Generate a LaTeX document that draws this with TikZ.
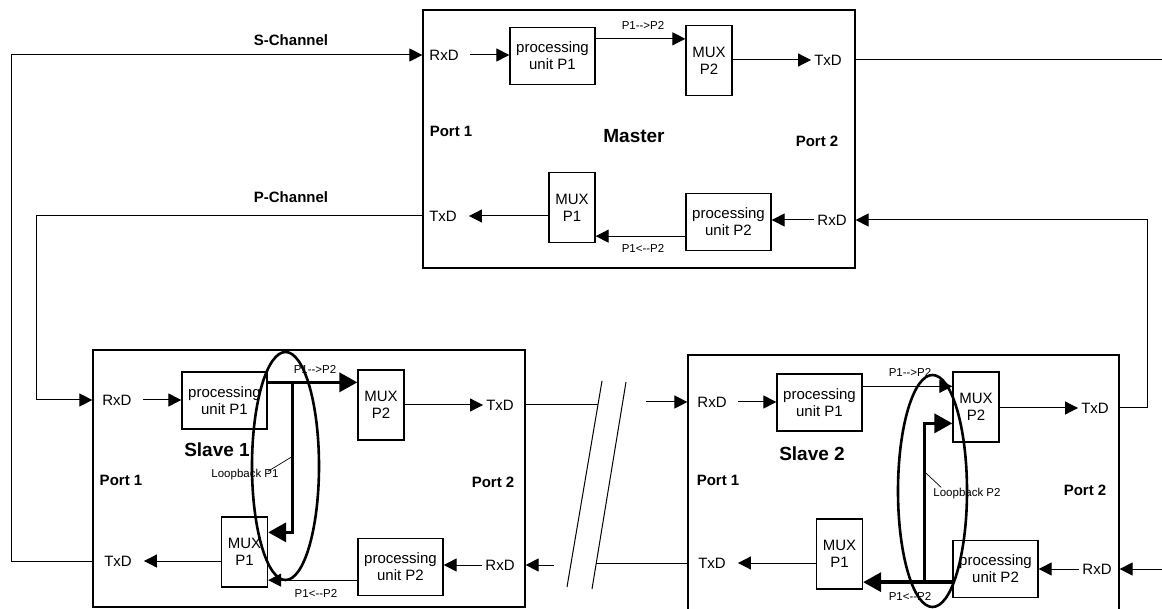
\documentclass[tikz,border=0pt]{standalone}
\usepackage{fontspec}
\setmainfont{Liberation Sans}
\usetikzlibrary{arrows.meta, positioning, calc}

\newcommand{\boxfont}{\fontsize{15}{17}\selectfont}
\newcommand{\tagfont}{\fontsize{11.5}{13}\selectfont}

\tikzset{
  blockframe/.style={draw, line width=1.2pt, inner sep=0pt},
  unit/.style={draw, line width=1.3pt, align=center, inner sep=0pt,
    minimum width=85pt, minimum height=57pt, font=\boxfont},
  mux/.style={unit, minimum width=46pt, minimum height=70pt},
  io/.style={inner sep=3pt, font=\boxfont},
  port/.style={inner sep=1pt, font=\bfseries\boxfont},
  heading/.style={inner sep=1pt, font=\bfseries\fontsize{19}{22}\selectfont},
  tag/.style={inner sep=1pt, font=\tagfont},
  sig/.style={line width=1pt, -{Triangle[length=13pt,width=13pt]}},
  lb/.style={line width=3.5pt, -{Triangle[length=18pt,width=19pt]}},
  ring/.style={line width=2.6pt},
  lead/.style={line width=0.7pt}
}

\begin{document}
\begin{tikzpicture}[x=1pt, y=-1pt]
  \useasboundingbox (0,0) rectangle (1162,609);
  \clip (0,0) rectangle (1162,609);

  % frames
  \node[blockframe, minimum width=432pt, minimum height=258pt] (mst) at (639,139) {};
  \node[blockframe, minimum width=432pt, minimum height=257pt] (s1) at (309,478.5) {};
  \node[blockframe, minimum width=431pt, minimum height=266pt] (s2) at (903.5,488) {};

  % Master
  \node[io] (mrx1) at (444,55) {RxD};
  \node[unit] (mpu1) at (552.5,56) {processing\\unit P1};
  \node[mux] (mmx2) at (709,60.5) {MUX\\P2};
  \node[io] (mtx2) at (828,60) {TxD};
  \node[port] (mpt1) at (451,131) {Port 1};
  \node[heading] (mname) at (634,136) {Master};
  \node[port] (mpt2) at (817,141) {Port 2};
  \node[mux] (mmx1) at (572,207.5) {MUX\\P1};
  \node[unit] (mpu2) at (728.5,222) {processing\\unit P2};
  \node[io] (mtx1) at (443,216) {TxD};
  \node[io] (mrx2) at (832,220) {RxD};
  \node[tag] (mfw) at (643,25) {P1-{}->P2};
  \node[tag] (mbw) at (643,248) {P1<-{}-P2};

  \draw[sig, shorten <=8pt] (mrx1.east) -- (mrx1 -| mpu1.west);
  \draw[sig] ($(mpu1.north east)+(0,12)$) coordinate (mf) -- (mf -| mmx2.west);
  \draw[sig] (mmx2.east |- mtx2) -- (mtx2.west);
  \draw[sig] (mrx2.west) -- (mrx2 -| mpu2.east);
  \draw[sig] ($(mpu2.south west)+(0,-15)$) coordinate (mb) -- (mb -| mmx1.east);
  \draw[sig, shorten >=9pt] (mmx1.west |- mtx1) -- (mtx1.east);

  % Slave 1
  \node[io] (s1rx1) at (117,400) {RxD};
  \node[unit] (s1pu1) at (224.5,400.5) {processing\\unit P1};
  \node[mux] (s1mx2) at (381,405) {MUX\\P2};
  \node[io] (s1tx2) at (500,405) {TxD};
  \node[heading] (s1name) at (217,450) {Slave 1};
  \node[port] (s1pt1) at (121,480) {Port 1};
  \node[port] (s1pt2) at (493,482) {Port 2};
  \node[mux] (s1mx1) at (244.5,552) {MUX\\P1};
  \node[unit] (s1pu2) at (400.5,567) {processing\\unit P2};
  \node[io] (s1tx1) at (118,561) {TxD};
  \node[io] (s1rx2) at (500,565) {RxD};
  \node[tag] (s1fw) at (315,369) {P1-{}->P2};
  \node[tag] (s1bw) at (316,593) {P1<-{}-P2};
  \node[tag] (s1lb) at (245,475) {Loopback P1};

  \draw[sig, shorten <=8pt] (s1rx1.east) -- (s1rx1 -| s1pu1.west);
  \draw[lb] ($(s1pu1.north east)+(0,11)$) coordinate (s1f) -- (s1f -| s1mx2.west);
  \draw[lb] ($(s1f)+(25,0)$) |- ($(s1mx1.north east)+(0,16)$);
  \draw[sig] (s1mx2.east |- s1tx2) -- (s1tx2.west);
  \draw[sig] (s1rx2.west) -- (s1rx2 -| s1pu2.east);
  \draw[sig] ($(s1pu2.south west)+(0,-16)$) coordinate (s1b) -- (s1b -| s1mx1.east);
  \draw[sig, shorten >=9pt] (s1mx1.west |- s1tx1) -- (s1tx1.east);
  \draw[lead] ($(s1lb.north east)+(-12,3)$) -- ++(23,-14);

  % Slave 2
  \node[io] (s2rx1) at (712,402) {RxD};
  \node[unit] (s2pu1) at (819.5,402.5) {processing\\unit P1};
  \node[mux] (s2mx2) at (976,407) {MUX\\P2};
  \node[io] (s2tx2) at (1095,408) {TxD};
  \node[heading] (s2name) at (812,454) {Slave 2};
  \node[port] (s2pt1) at (718,480) {Port 1};
  \node[port] (s2pt2) at (1085,490) {Port 2};
  \node[mux] (s2mx1) at (839.5,554) {MUX\\P1};
  \node[unit] (s2pu2) at (995.5,569) {processing\\unit P2};
  \node[io] (s2tx1) at (712,563) {TxD};
  \node[io] (s2rx2) at (1097,569) {RxD};
  \node[tag] (s2fw) at (910,372) {P1-{}->P2};
  \node[tag] (s2bw) at (910,596) {P1<-{}-P2};
  \node[tag] (s2lb) at (967,494) {Loopback P2};

  \draw[sig, shorten <=8pt] (s2rx1.east) -- (s2rx1 -| s2pu1.west);
  \draw[sig] ($(s2pu1.north east)+(0,13)$) coordinate (s2f) -- (s2f -| s2mx2.west);
  \draw[sig] (s2mx2.east |- s2tx2) -- (s2tx2.west);
  \draw[sig] (s2rx2.west) -- (s2rx2 -| s2pu2.east);
  \draw[lb] ($(s2pu2.south west)+(0,-16)$) coordinate (s2b) -- (s2b -| s2mx1.east);
  \draw[lb] ($(s2b)+(-28,0)$) |- ($(s2mx2.north west)+(0,52)$);
  \draw[sig, shorten >=9pt] (s2mx1.west |- s2tx1) -- (s2tx1.east);
  \draw[lead] ($(s2lb.north west)+(9,0)$) -- ++(-16,-15);

  % channels
  \node[port] (sch) at (291,40) {S-Channel};
  \node[port] (pch) at (291,197) {P-Channel};
  \draw[sig] (s1.west |- s1tx1) -- ++(-81,0) |- (mst.west |- mrx1);
  \draw[sig] (mst.west |- mtx1) -- ++(-386,0) |- (s1.west |- s1rx1);
  \draw[line width=1pt] (mst.east |- mtx2) -- ++(310,0);
  \draw[sig] (s2.east |- s2tx2) -- ++(28,0) |- (mst.east |- mrx2);
  \draw[sig] ($(s2.east |- s2rx2)+(45,0)$) -- (s2.east |- s2rx2);

  % break between the slaves
  \coordinate (brk1t) at (602,381); \coordinate (brk1b) at (567,587);
  \coordinate (brk2t) at (626,382); \coordinate (brk2b) at (592,589);
  \draw[line width=1pt] (brk1t) -- (brk1b);
  \draw[line width=1pt] (brk2t) -- (brk2b);
  \coordinate (cut1) at (598,405);
  \coordinate (cut2) at (596,563);
  \draw[line width=1pt] (s1.east |- s1tx2) -- (cut1 |- s1tx2);
  \draw[sig] ($(s2.west |- s2rx1)+(-41,0)$) -- (s2.west |- s2rx1);
  \draw[line width=1pt] (s2.west |- s2tx1) -- (cut2 |- s2tx1);
  \draw[sig] ($(s1.east |- s1rx2)+(28,0)$) -- (s1.east |- s1rx2);

  % loopback rings
  \draw[ring] (285.5,466) ellipse [x radius=33.5pt, y radius=114pt];
  \draw[ring] (932.5,491) ellipse [x radius=34.5pt, y radius=116pt];
\end{tikzpicture}
\end{document}
